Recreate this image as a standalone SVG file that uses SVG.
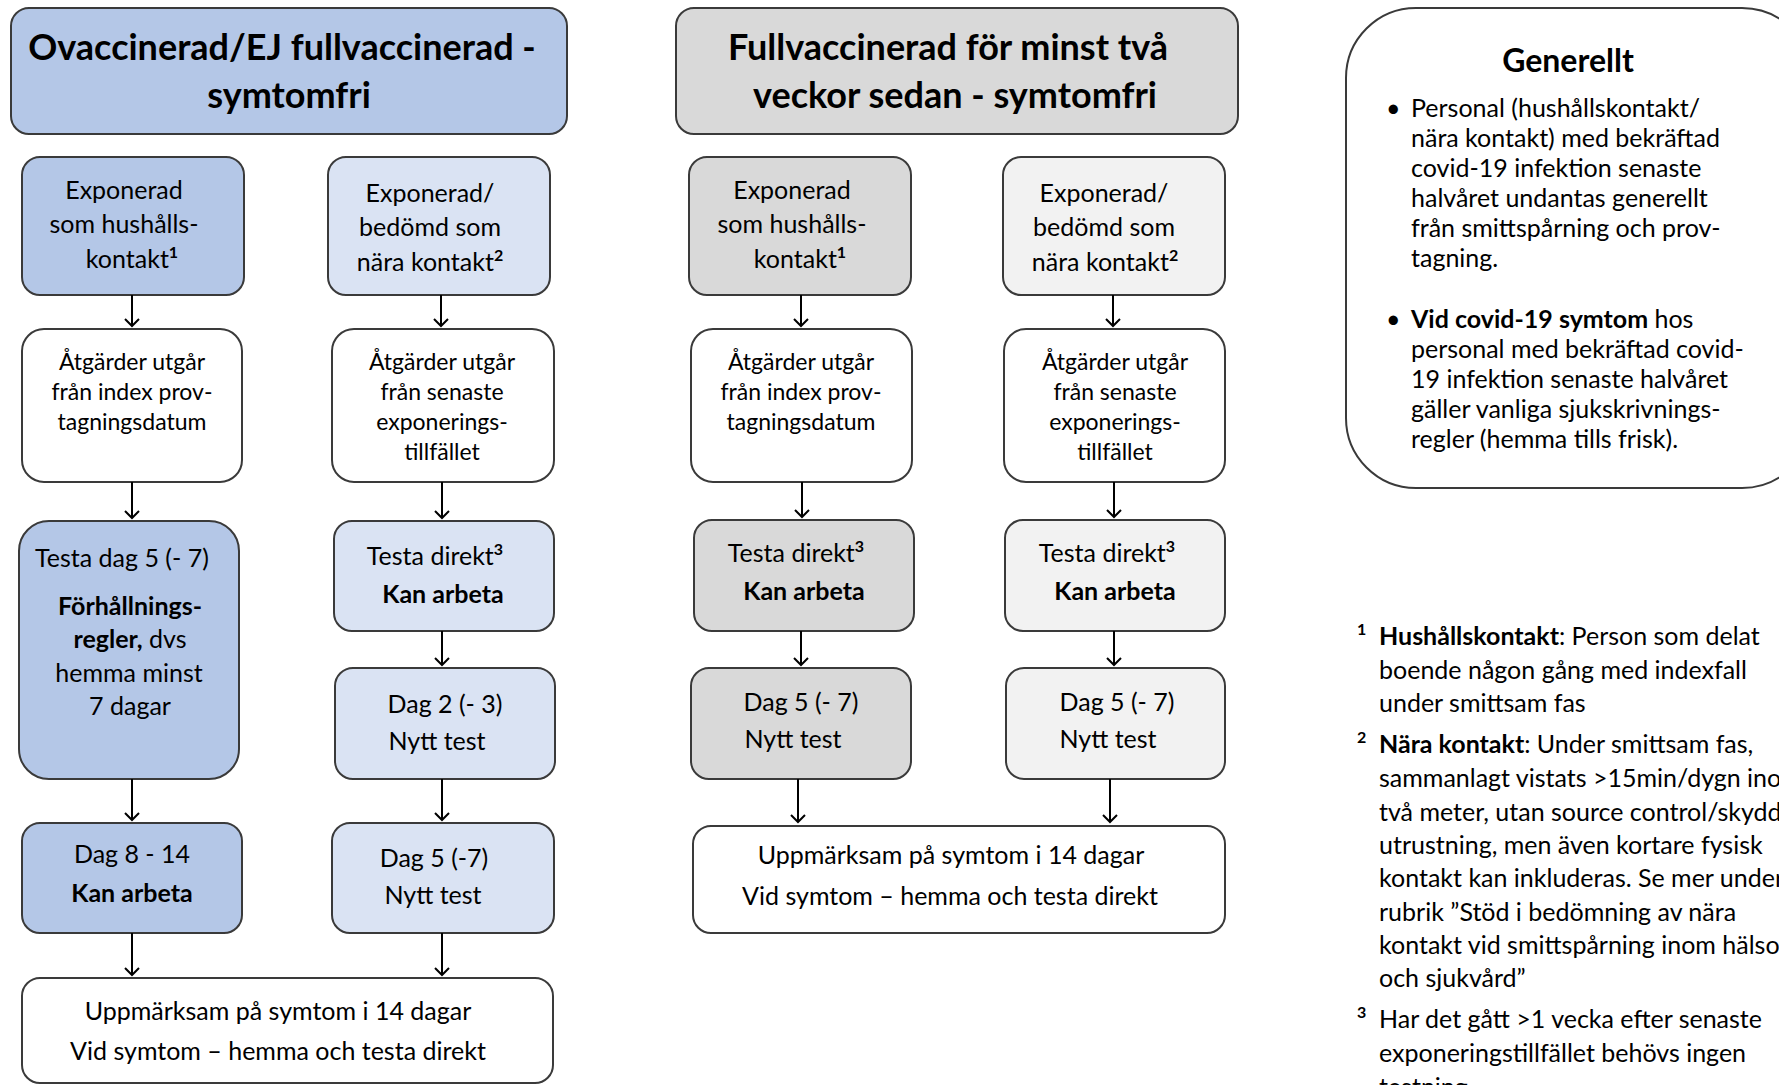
<svg xmlns="http://www.w3.org/2000/svg" width="1779" height="1085" viewBox="0 0 1779 1085">
<style>
.box{stroke:#3a3a3a;stroke-width:2}
.blue{fill:#B4C7E7}.lblue{fill:#DAE3F3}.gray{fill:#D9D9D9}.lgray{fill:#F2F2F2}.white{fill:#FFFFFF}
text{font-family:Lato,"Liberation Sans",sans-serif;font-size:25px;fill:#000;text-anchor:middle}
.h{font-size:36px;font-weight:bold}
.g{font-size:32px;font-weight:bold}
.s{font-size:23px}
.b{font-weight:bold}
.l{text-anchor:start}
.sup{font-size:16px;font-weight:bold}
.conn{stroke:#000;stroke-width:2;fill:none;marker-end:url(#arr)}
</style>
<defs>
<marker id="arr" markerWidth="12" markerHeight="16" refX="10" refY="8" orient="auto" markerUnits="userSpaceOnUse" viewBox="0 0 12 16">
<path d="M3,1 L10,8 L3,15" fill="none" stroke="#000" stroke-width="2"/>
</marker>
</defs>
<rect width="1779" height="1085" fill="#fff"/>

<g id="hdr1"><rect class="box blue" x="11" y="8" width="556" height="126" rx="18"/>
<text class="h" x="282" y="60">Ovaccinerad/EJ fullvaccinerad -</text>
<text class="h" x="289" y="108">symtomfri</text></g>

<g id="hdr2"><rect class="box gray" x="676" y="8" width="562" height="126" rx="18"/>
<text class="h" x="948" y="60">Fullvaccinerad för minst två</text>
<text class="h" x="955" y="108">veckor sedan - symtomfri</text></g>

<g id="generellt"><rect class="box white" x="1346" y="8" width="466" height="480" rx="70"/>
<text class="g" x="1568" y="72">Generellt</text>
<text class="l" x="1386" y="117">•</text>
<text class="l" x="1411" y="117">Personal (hushållskontakt/</text>
<text class="l" x="1411" y="147">nära kontakt) med bekräftad</text>
<text class="l" x="1411" y="177">covid-19 infektion senaste</text>
<text class="l" x="1411" y="207">halvåret undantas generellt</text>
<text class="l" x="1411" y="237">från smittspårning och prov-</text>
<text class="l" x="1411" y="267">tagning.</text>
<text class="l" x="1386" y="328">•</text>
<text class="l" x="1411" y="328"><tspan class="b">Vid covid-19 symtom</tspan> hos</text>
<text class="l" x="1411" y="358">personal med bekräftad covid-</text>
<text class="l" x="1411" y="388">19 infektion senaste halvåret</text>
<text class="l" x="1411" y="418">gäller vanliga sjukskrivnings-</text>
<text class="l" x="1411" y="448">regler (hemma tills frisk).</text></g>

<g id="footnotes">
<text class="l sup" x="1357" y="635">1</text>
<text class="l" x="1379" y="645"><tspan class="b">Hushållskontakt</tspan>: Person som delat</text>
<text class="l" x="1379" y="679">boende någon gång med indexfall</text>
<text class="l" x="1379" y="712">under smittsam fas</text>
<text class="l sup" x="1357" y="743">2</text>
<text class="l" x="1379" y="753"><tspan class="b">Nära kontakt</tspan>: Under smittsam fas,</text>
<text class="l" x="1379" y="787">sammanlagt vistats &gt;15min/dygn inom</text>
<text class="l" x="1379" y="821">två meter, utan source control/skydds-</text>
<text class="l" x="1379" y="854">utrustning, men även kortare fysisk</text>
<text class="l" x="1379" y="887">kontakt kan inkluderas. Se mer under</text>
<text class="l" x="1379" y="921">rubrik ”Stöd i bedömning av nära</text>
<text class="l" x="1379" y="954">kontakt vid smittspårning inom hälso-</text>
<text class="l" x="1379" y="987">och sjukvård”</text>
<text class="l sup" x="1357" y="1018">3</text>
<text class="l" x="1379" y="1028">Har det gått &gt;1 vecka efter senaste</text>
<text class="l" x="1379" y="1062">exponeringstillfället behövs ingen</text>
<text class="l" x="1379" y="1096">testning.</text>
</g>

<g id="L1a"><rect class="box blue" x="22" y="157" width="222" height="138" rx="18"/>
<text x="124" y="199">Exponerad</text>
<text x="124" y="233">som hushålls-</text>
<text x="132" y="268">kontakt<tspan class="sup" dy="-10">1</tspan></text></g>

<g id="L2a"><rect class="box lblue" x="328" y="157" width="222" height="138" rx="18"/>
<text x="430" y="202">Exponerad/</text>
<text x="430" y="236">bedömd som</text>
<text x="430" y="271">nära kontakt<tspan class="sup" dy="-10">2</tspan></text></g>

<g id="M1a"><rect class="box gray" x="689" y="157" width="222" height="138" rx="18"/>
<text x="792" y="199">Exponerad</text>
<text x="792" y="233">som hushålls-</text>
<text x="800" y="268">kontakt<tspan class="sup" dy="-10">1</tspan></text></g>

<g id="M2a"><rect class="box lgray" x="1003" y="157" width="222" height="138" rx="18"/>
<text x="1104" y="202">Exponerad/</text>
<text x="1104" y="236">bedömd som</text>
<text x="1105" y="271">nära kontakt<tspan class="sup" dy="-10">2</tspan></text></g>

<g id="L1b"><rect class="box white" x="22" y="329" width="220" height="153" rx="22"/>
<text class="s" x="132" y="370">Åtgärder utgår</text>
<text class="s" x="132" y="400">från index prov-</text>
<text class="s" x="132" y="430">tagningsdatum</text></g>

<g id="L2b"><rect class="box white" x="332" y="329" width="222" height="153" rx="22"/>
<text class="s" x="442" y="370">Åtgärder utgår</text>
<text class="s" x="442" y="400">från senaste</text>
<text class="s" x="442" y="430">exponerings-</text>
<text class="s" x="442" y="460">tillfället</text></g>

<g id="M1b"><rect class="box white" x="691" y="329" width="221" height="153" rx="22"/>
<text class="s" x="801" y="370">Åtgärder utgår</text>
<text class="s" x="801" y="400">från index prov-</text>
<text class="s" x="801" y="430">tagningsdatum</text></g>

<g id="M2b"><rect class="box white" x="1004" y="329" width="221" height="153" rx="22"/>
<text class="s" x="1115" y="370">Åtgärder utgår</text>
<text class="s" x="1115" y="400">från senaste</text>
<text class="s" x="1115" y="430">exponerings-</text>
<text class="s" x="1115" y="460">tillfället</text></g>

<g id="L1c"><rect class="box blue" x="19" y="521" width="220" height="258" rx="30"/>
<text x="122" y="567">Testa dag 5 (- 7)</text>
<text class="b" x="130" y="615">Förhållnings-</text>
<text x="130" y="648"><tspan class="b">regler,</tspan> dvs</text>
<text x="129" y="682">hemma minst</text>
<text x="130" y="715">7 dagar</text></g>

<g id="L2c"><rect class="box lblue" x="334" y="521" width="220" height="110" rx="18"/>
<text x="435" y="565">Testa direkt<tspan class="sup" dy="-10">3</tspan></text>
<text class="b" x="443" y="603">Kan arbeta</text></g>

<g id="M1c"><rect class="box gray" x="694" y="520" width="220" height="111" rx="18"/>
<text x="796" y="562">Testa direkt<tspan class="sup" dy="-10">3</tspan></text>
<text class="b" x="804" y="600">Kan arbeta</text></g>

<g id="M2c"><rect class="box lgray" x="1005" y="520" width="220" height="111" rx="18"/>
<text x="1107" y="562">Testa direkt<tspan class="sup" dy="-10">3</tspan></text>
<text class="b" x="1115" y="600">Kan arbeta</text></g>

<g id="L2d"><rect class="box lblue" x="335" y="668" width="220" height="111" rx="18"/>
<text x="445" y="713">Dag 2 (- 3)</text>
<text x="437" y="750">Nytt test</text></g>

<g id="M1d"><rect class="box gray" x="691" y="668" width="220" height="111" rx="18"/>
<text x="801" y="711">Dag 5 (- 7)</text>
<text x="793" y="748">Nytt test</text></g>

<g id="M2d"><rect class="box lgray" x="1006" y="668" width="219" height="111" rx="18"/>
<text x="1117" y="711">Dag 5 (- 7)</text>
<text x="1108" y="748">Nytt test</text></g>

<g id="L1e"><rect class="box blue" x="22" y="823" width="220" height="110" rx="18"/>
<text x="132" y="863">Dag 8 - 14</text>
<text class="b" x="132" y="902">Kan arbeta</text></g>

<g id="L2e"><rect class="box lblue" x="332" y="823" width="222" height="110" rx="18"/>
<text x="434" y="867">Dag 5 (-7)</text>
<text x="433" y="904">Nytt test</text></g>

<g id="Mbot"><rect class="box white" x="693" y="826" width="532" height="107" rx="18"/>
<text x="951" y="864">Uppmärksam på symtom i 14 dagar</text>
<text x="950" y="905">Vid symtom – hemma och testa direkt</text></g>

<g id="Lbot"><rect class="box white" x="22" y="978" width="531" height="105" rx="18"/>
<text x="278" y="1020">Uppmärksam på symtom i 14 dagar</text>
<text x="278" y="1060">Vid symtom – hemma och testa direkt</text></g>

<g id="connectors">
<line class="conn" x1="132" y1="295" x2="132" y2="326"/>
<line class="conn" x1="132" y1="482" x2="132" y2="518"/>
<line class="conn" x1="132" y1="779" x2="132" y2="820"/>
<line class="conn" x1="132" y1="933" x2="132" y2="975"/>
<line class="conn" x1="441" y1="295" x2="441" y2="326"/>
<line class="conn" x1="442" y1="482" x2="442" y2="518"/>
<line class="conn" x1="442" y1="631" x2="442" y2="665"/>
<line class="conn" x1="442" y1="779" x2="442" y2="820"/>
<line class="conn" x1="442" y1="933" x2="442" y2="975"/>
<line class="conn" x1="801" y1="295" x2="801" y2="326"/>
<line class="conn" x1="802" y1="482" x2="802" y2="517"/>
<line class="conn" x1="801" y1="631" x2="801" y2="665"/>
<line class="conn" x1="798" y1="779" x2="798" y2="822"/>
<line class="conn" x1="1113" y1="295" x2="1113" y2="326"/>
<line class="conn" x1="1114" y1="482" x2="1114" y2="517"/>
<line class="conn" x1="1114" y1="631" x2="1114" y2="665"/>
<line class="conn" x1="1110" y1="779" x2="1110" y2="822"/>
</g>
</svg>
